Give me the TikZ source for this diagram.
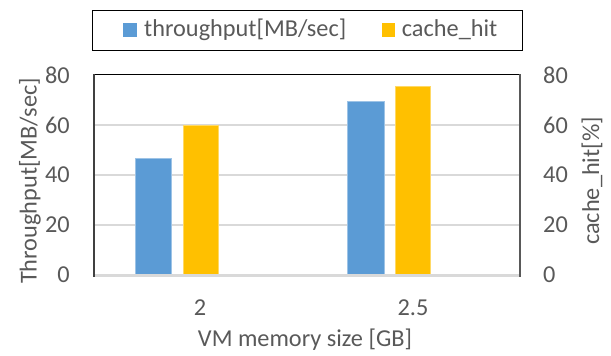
\documentclass[tikz,border=0pt]{standalone}
\usepackage{fontspec}
\setmainfont{Carlito}
\definecolor{tpblue}{HTML}{5B9BD5}
\definecolor{chyellow}{HTML}{FFC000}
\definecolor{gridgray}{HTML}{D9D9D9}
\definecolor{txtgray}{HTML}{595959}
\definecolor{axisdark}{HTML}{404040}
\begin{document}
\begin{tikzpicture}[x=1pt,y=-1pt,
  lbl/.style={text=txtgray,font=\fontsize{24.3}{29}\selectfont,inner sep=0pt},
  gridline/.style={gridgray,line width=1.5pt},
  tpbar/.style={fill=tpblue,draw=tpblue!60!white,line width=0.6pt},
  chbar/.style={fill=chyellow,draw=chyellow!60!white,line width=0.6pt}]
\useasboundingbox (0,0) rectangle (611,356);
% horizontal grid
\foreach \v in {20,40,60}
  \draw[gridline] (94,{275-2.5*\v}) -- (520,{275-2.5*\v});
% bars: throughput and cache hit for 2 GB and 2.5 GB
\draw[tpbar] (135,275) rectangle (171.7,{275-2.5*46.7});
\draw[chbar] (183,275) rectangle (218,{275-2.5*60});
\draw[tpbar] (347.7,275) rectangle (384.7,{275-2.5*69.3});
\draw[chbar] (395.7,275) rectangle (430.7,{275-2.5*75.6});
% plot frame
\draw[gridgray,line width=2.5pt] (94,275.5) -- (520,275.5);
\draw[black,line width=1pt] (94,74.5) -- (520,74.5);
\draw[axisdark,line width=2pt] (94,74) -- (94,276.5);
\draw[txtgray,line width=2pt] (520,74) -- (520,276.5);
% tick labels
\foreach \v in {0,20,40,60,80}{
  \node[lbl,anchor=east] (l\v) at (70,{275-2.5*\v}) {\v};
  \node[lbl,anchor=west] (r\v) at (543,{275-2.5*\v}) {\v};
}
\node[lbl,anchor=base] (x1) at (200,315) {2};
\node[lbl,anchor=base] (x2) at (413,315) {2.5};
% axis titles
\node[lbl,anchor=base] (xt) at (305,346.5) {VM memory size [GB]};
\node[lbl,rotate=90] (yl) at (30,181) {Throughput[MB/sec]};
\node[lbl,rotate=90] (yr) at (592,181) {cache\_hit[\%]};
% legend
\draw[black,line width=1pt] (92,10.5) rectangle (522.5,50.5);
\fill[tpblue] (123.3,23.3) rectangle (136.7,36.5);
\node[lbl,anchor=base west] (lg1) at (144,36.5) {throughput[MB/sec]};
\fill[chyellow] (381.7,23.3) rectangle (395.3,36.5);
\node[lbl,anchor=base west] (lg2) at (401.7,36.5) {cache\_hit};
\end{tikzpicture}
\end{document}
